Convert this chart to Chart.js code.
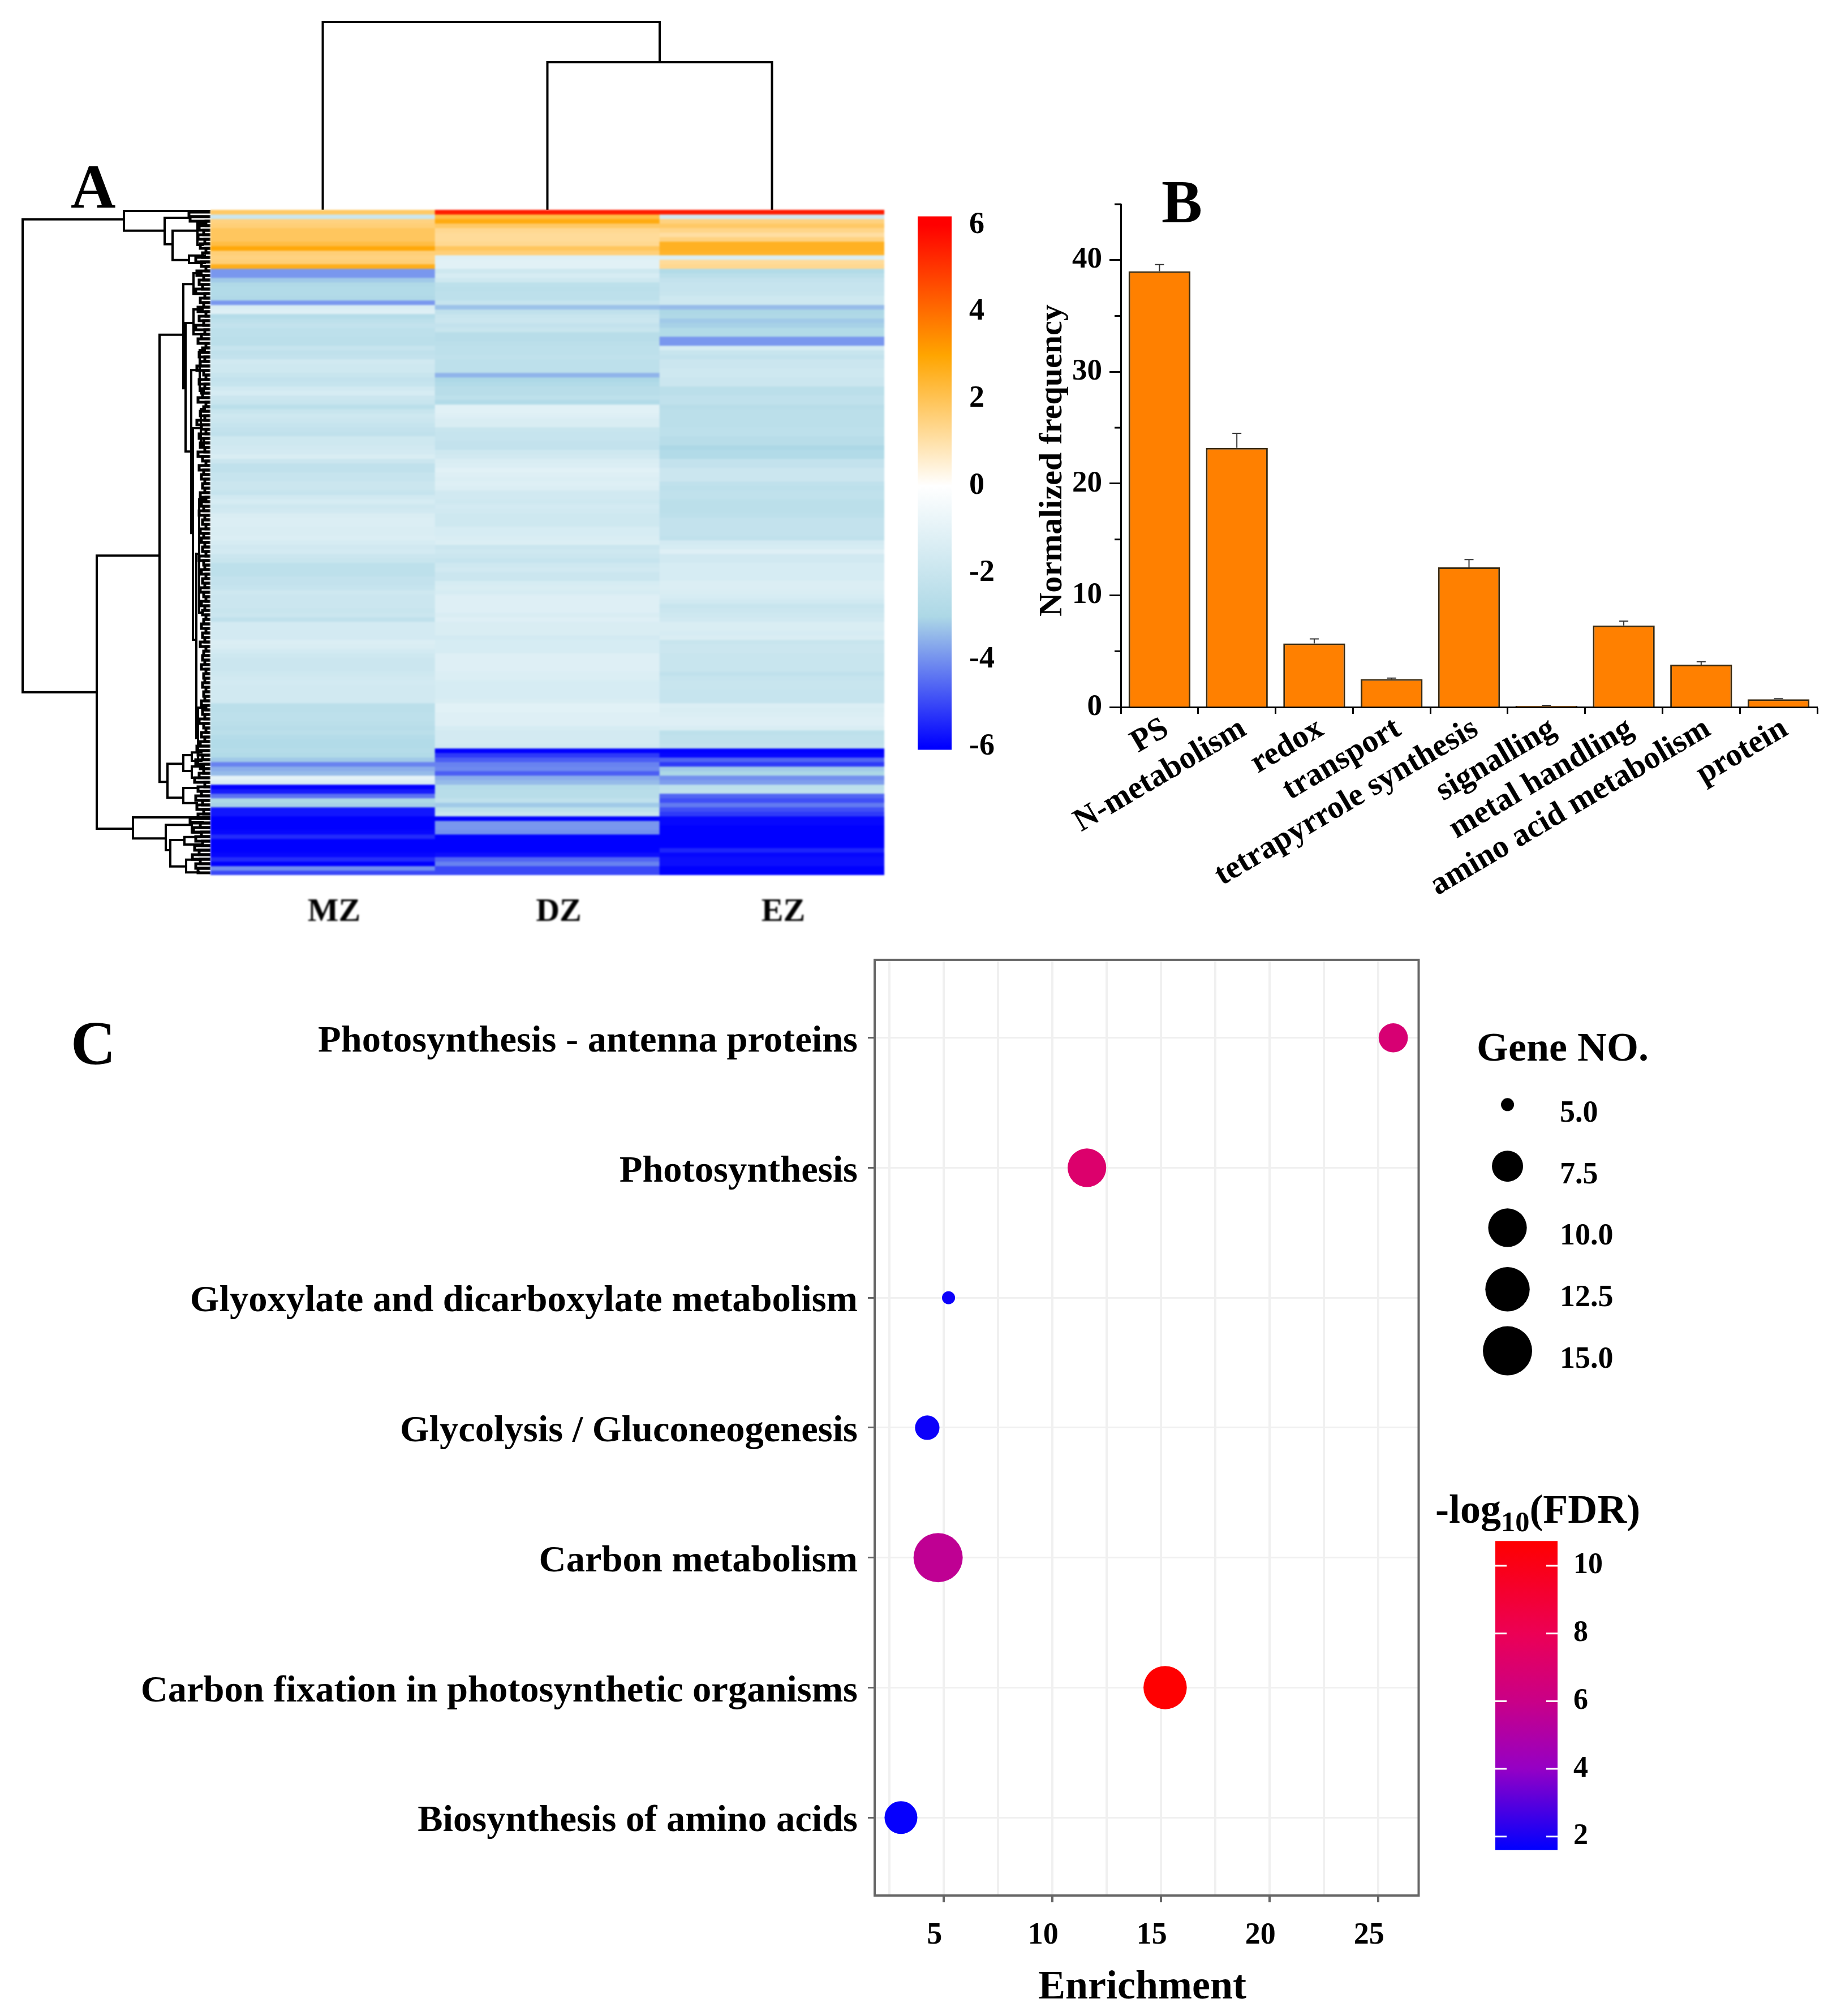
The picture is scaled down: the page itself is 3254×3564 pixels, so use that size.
<!DOCTYPE html>
<html>
<head>
<meta charset="utf-8">
<title>Panels A-C</title>
<script src="https://cdn.jsdelivr.net/npm/chart.js@4/dist/chart.umd.min.js"></script>
<style>
  html, body { margin: 0; background: #fff; }
  #page { position: relative; width: 3254px; height: 3564px; overflow: hidden; }
  canvas { position: absolute; }
  .note { position: absolute; font-family: "Liberation Serif", "Times New Roman", serif; font-weight: bold; line-height: 1; white-space: nowrap; color: #000; }
  .note sub { font-size: 0.7em; line-height: 0; }
</style>
</head>
<body>
<div id="page">
  <div class="note" style="left:125px;top:275px;font-size:110px">A</div>
  <div class="note" style="left:2053px;top:303px;font-size:108px">B</div>
  <div class="note" style="left:125px;top:1789px;font-size:110px">C</div>
  <div class="note" style="left:2610px;top:1815px;font-size:72px">Gene NO.</div>
  <div class="note" style="left:2537px;top:2632px;font-size:72px">-log<sub>10</sub>(FDR)</div>
  <div class="note" style="left:1857px;top:814px;font-size:58px;transform:translate(-50%,-50%) rotate(-90deg)">Normalized frequency</div>
  <div class="note" style="left:2019px;top:3509px;font-size:72px;transform:translate(-50%,-50%)">Enrichment</div>
</div>
<script>
// ============================================================================
// DATA
// ============================================================================
const SAMPLES = ['MZ', 'DZ', 'EZ'];

// Panel A: one value per heatmap row, top to bottom
const mzValues = [
  1.8,-1.9,1.5,1.6,1.9,1.9,1.9,2.2,2.9,1.6,
  1.5,1.6,2.7,-3.9,-3.9,-3.2,-2.9,-2.8,-2.8,-2.9,
  -3.9,-1.4,-1.2,-2.7,-2.4,-2.2,-2.4,-2.4,-2.5,-2.5,
  -2.1,-2.3,-2.2,-1.7,-1.8,-1.8,-2.0,-2.2,-2.1,-1.7,
  -1.5,-1.9,-2.0,-2.5,-2.0,-1.8,-1.9,-2.1,-2.2,-2.3,
  -1.8,-1.8,-1.7,-1.6,-1.4,-1.9,-2.3,-2.3,-2.1,-2.1,
  -1.9,-1.9,-2.1,-1.7,-1.5,-1.8,-1.7,-1.4,-1.3,-1.3,
  -1.4,-1.4,-1.3,-1.5,-1.7,-1.6,-1.9,-2.0,-2.4,-2.4,
  -2.4,-2.2,-2.2,-2.1,-1.8,-1.9,-1.9,-1.9,-2.0,-1.9,
  -2.3,-1.6,-1.6,-1.6,-1.6,-1.3,-1.4,-1.6,-1.8,-1.9,
  -1.9,-1.9,-1.8,-1.7,-1.6,-1.7,-1.7,-1.7,-1.7,-2.5,
  -2.5,-2.4,-2.4,-2.5,-2.6,-2.5,-2.7,-2.8,-2.8,-2.7,
  -2.8,-3.2,-4.2,-3.6,-3.4,-1.0,-1.4,-6,-5.6,-4.4,
  -3,-3.1,-5.7,-5.7,-6,-6,-6,-5.9,-5.4,-6,
  -6,-6,-5.9,-5.4,-6,-4,-5
];
const dzValues = [
  5.5,2.2,2.8,1.8,1.3,1.2,1.2,1.3,1.9,1.6,
  -1.2,-1.1,-1.1,-1.8,-1.5,-1.8,-2.4,-2.5,-2.4,-2.4,
  -2.1,-3.3,-2.3,-2.0,-1.9,-2.2,-2.0,-2.6,-2.6,-2.5,
  -2.4,-2.4,-2.3,-2.4,-2.4,-2.4,-3.5,-3.0,-2.8,-2.6,
  -2.6,-2.4,-2.8,-1.1,-1.1,-1.2,-1.4,-1.4,-2.0,-2.1,
  -2.1,-2.2,-2.2,-1.8,-1.7,-1.4,-1.3,-1.1,-1.2,-1.3,
  -1.2,-1.3,-1.7,-1.7,-1.8,-1.6,-1.7,-1.8,-1.8,-1.8,
  -1.5,-1.5,-1.4,-1.3,-1.9,-1.8,-1.9,-2.1,-1.8,-1.7,
  -1.9,-1.9,-1.5,-1.4,-1.5,-1.2,-1.2,-1.2,-1.2,-1.4,
  -1.2,-1.4,-1.4,-1.4,-1.6,-1.5,-1.5,-1.5,-1.2,-1.2,
  -1.2,-1.2,-1.3,-1.3,-1.5,-1.5,-1.5,-1.5,-1.4,-1.1,
  -1.1,-1.2,-1.2,-1.2,-1.5,-1.6,-1.6,-1.6,-1.7,-6,
  -5.2,-4.7,-4.2,-4.1,-4.7,-3.6,-3.4,-2.7,-2.6,-2.6,
  -2.3,-3.2,-2.4,-2.0,-6,-3.9,-3.9,-4,-6,-6,
  -6,-6,-5.8,-4.6,-4.2,-5,-5
];
const ezValues = [
  5.5,-1.7,1.5,1.8,1.4,1.1,1.5,2.6,2.6,2.5,
  -1.3,1.2,1.3,-2.8,-2.5,-2.2,-2.1,-2.1,-2.0,-1.8,
  -1.8,-3.4,-3.0,-2.9,-3.2,-3.1,-2.8,-2.8,-3.9,-3.9,
  -1.5,-2.0,-2.2,-1.9,-1.9,-1.8,-1.8,-1.9,-1.9,-2.5,
  -2.5,-2.3,-2.3,-2.6,-2.5,-2.5,-2.5,-2.5,-2.4,-2.4,
  -2.6,-2.6,-3.0,-2.8,-2.8,-2.2,-2.2,-1.9,-1.9,-1.9,
  -2.3,-2.4,-2.3,-2.3,-2.5,-2.5,-2.5,-2.4,-2.2,-2.2,
  -2.2,-2.2,-2.3,-1.6,-1.5,-1.2,-1.7,-1.7,-1.5,-1.5,
  -1.5,-1.5,-1.3,-1.3,-1.4,-1.5,-1.7,-2.0,-1.9,-1.8,
  -1.7,-1.4,-1.4,-1.5,-1.4,-2.0,-1.9,-1.9,-2.0,-2.0,
  -2.0,-2.0,-2.3,-2.1,-2.0,-2.0,-2.1,-2.1,-2.1,-1.3,
  -1.4,-1.3,-1.2,-1.2,-1.4,-2.4,-2.3,-2.3,-2.2,-6,
  -5.9,-4.6,-5.2,-3.2,-3,-4,-3.8,-2.4,-2.3,-4.6,
  -4.9,-4.3,-4.9,-5.2,-5.9,-5.9,-6,-6,-6,-6,
  -6,-5.5,-5.9,-5.8,-5.8,-6,-6
];
const heatmapColumns = [mzValues, dzValues, ezValues];

// Dendrogram merges: [height, first position, second position, first child height, second child height]
const columnMerges = [
  [0.786, 1.5, 2.5, 0, 0],
  [1, 0.5, 2, 0, 0.786],
];
const rowMerges = [
  [332,2.1,106.6,153,201],
  [153,0.25,4.6,0,81],
  [81,1.75,7.6,36,67],
  [67,4.6,11.1,23,38],
  [23,3,7.75,12,14],
  [38,10.1,11.75,10,10],
  [201,76.4,136.75,90,137],
  [90,27.6,126.4,48,76],
  [48,16.4,39.4,30,44],
  [30,14,18.6,16,14],
  [44,25,53.4,30,34],
  [30,22,27.5,14,16],
  [34,35.4,71.4,19,31],
  [19,31,40,10,12],
  [31,48.25,95,17,25],
  [17,44,52,10,12],
  [25,76,116.75,20,22],
  [20,64,89,12,14],
  [22,110,123,10,12],
  [76,122.4,129.9,48,48],
  [48,120.5,124,33,33],
  [33,119.9,121.75,16,16],
  [33,123,125.5,18,16],
  [48,127.75,131.1,26,24],
  [137,134.25,138.9,0,79],
  [79,135.9,141.5,33,71],
  [33,135.25,137.6,14,18],
  [71,139.25,145.1,46,43],
  [46,138.6,140.25,18,16],
  [43,143.6,146.4,22,20],
];
// Height of the small merge between each row and the next
const leafMergeHeights = [
  38,36,8,20,12,22,10,18,8,14,
  26,16,8,24,12,20,14,26,10,18,
  12,22,8,20,12,26,10,16,22,8,
  14,20,10,18,24,12,8,20,10,16,
  14,22,8,12,18,10,24,16,8,20,
  12,18,10,22,14,8,20,12,16,10,
  14,10,18,8,16,12,20,10,14,8,
  18,12,16,10,14,8,20,12,10,16,
  8,14,10,18,12,8,16,10,14,8,
  12,16,8,14,10,18,8,12,14,10,
  16,8,12,10,14,8,12,10,16,8,
  14,10,20,12,8,16,10,18,24,22,
  14,26,18,12,20,28,10,22,16,26,
  14,24,12,22,36,18,30,16,26,14,
  28,20,32,18,26,22
];

// Panel B
const functionNames = ['PS', 'N-metabolism', 'redox', 'transport', 'tetrapyrrole synthesis',
  'signalling', 'metal handling', 'amino acid metabolism', 'protein'];
const frequencies = [39, 23.2, 5.7, 2.5, 12.5, 0.1, 7.3, 3.8, 0.7];
const frequencyErrorTops = [39.6, 24.5, 6.1, 2.6, 13.2, 0.15, 7.7, 4.05, 0.75];
const frequencyMinorTicks = [5, 15, 25, 35, 45];

// Panel C
const pathways = ['Photosynthesis - antenna proteins', 'Photosynthesis',
  'Glyoxylate and dicarboxylate metabolism', 'Glycolysis / Gluconeogenesis',
  'Carbon metabolism', 'Carbon fixation in photosynthetic organisms', 'Biosynthesis of amino acids'];
const enrichment = [25.7, 11.6, 5.23, 4.25, 4.75, 15.2, 3.04];
const geneCounts = [7, 10, 5, 6, 15, 12, 8];
const fdrValues = [6.8, 7.1, 1.8, 1.8, 5.6, 10.7, 1.7];
const geneLevels = [5, 7.5, 10, 12.5, 15];

// ============================================================================
// COLOURS AND HELPERS
// ============================================================================
const SERIF = '"Liberation Serif", "Times New Roman", serif';
const boldFont = size => ({ family: SERIF, size, weight: 'bold' });

const HEAT_STOPS = [[-6, [0, 0, 255]], [-3, [173, 216, 230]], [0, [255, 255, 255]], [3, [255, 165, 0]], [6, [255, 0, 0]]];
const FDR_STOPS = [[1.6, [0, 0, 255]], [4, [149, 0, 197]], [6, [201, 0, 135]], [8, [236, 0, 85]], [10.73, [255, 0, 0]]];

function rampColor(stops, v) {
  const last = stops.length - 1;
  if (v <= stops[0][0]) return `rgb(${stops[0][1].join(',')})`;
  if (v >= stops[last][0]) return `rgb(${stops[last][1].join(',')})`;
  let i = 0;
  while (v > stops[i + 1][0]) i++;
  const t = (v - stops[i][0]) / (stops[i + 1][0] - stops[i][0]);
  const c = stops[i][1].map((a, k) => Math.round(a + (stops[i + 1][1][k] - a) * t));
  return `rgb(${c.join(',')})`;
}

// Vertical gradient for a colour bar, built from the scale so it stays aligned
function rampGradient(stops) {
  return ctx => {
    const { chart } = ctx;
    if (!chart.chartArea) return 'transparent';
    const y = chart.scales.y;
    const top = y.getPixelForValue(stops[stops.length - 1][0]);
    const bottom = y.getPixelForValue(stops[0][0]);
    const g = chart.ctx.createLinearGradient(0, bottom, 0, top);
    const span = stops[stops.length - 1][0] - stops[0][0];
    stops.forEach(s => g.addColorStop((s[0] - stops[0][0]) / span, `rgb(${s[1].join(',')})`));
    return g;
  };
}

// ggplot style area scale between the legend's smallest and largest dot
function dotRadius(count) {
  return 11.5 + 32 * Math.sqrt((count - 5) / 10);
}

function addCanvas(x, y, w, h) {
  const c = document.createElement('canvas');
  c.width = w; c.height = h;
  c.style.left = x + 'px'; c.style.top = y + 'px';
  document.getElementById('page').appendChild(c);
  return c.getContext('2d');
}

function elbowDatasets(merges, toPoint, width) {
  return merges.map(([h, p1, p2, h1, h2]) => ({
    type: 'scatter',
    showLine: true,
    data: [toPoint(h1, p1), toPoint(h, p1), toPoint(h, p2), toPoint(h2, p2)],
    borderColor: '#000',
    borderWidth: width,
    borderCapStyle: 'square',
    pointRadius: 0,
    tension: 0,
    clip: false,
  }));
}

const BASE = { responsive: false, animation: false, devicePixelRatio: 1, events: [] };
const NO_UI = { legend: { display: false }, tooltip: { enabled: false } };
const hidden = (extra) => Object.assign({ type: 'linear', display: false }, extra);
const fixWidth = w => s => { s.width = w; };
const fixHeight = h => s => { s.height = h; };

// ---- Panel A: column dendrogram -------------------------------------------
new Chart(addCanvas(372, 35, 1191, 336), {
  type: 'scatter',
  data: { datasets: elbowDatasets(columnMerges, (h, p) => ({ x: p, y: h }), 4) },
  options: {
    ...BASE,
    plugins: NO_UI,
    layout: { padding: { top: 4 } },
    scales: { x: hidden({ min: 0, max: 3 }), y: hidden({ min: 0, max: 1 }) },
  },
});

// ---- Panel A: row dendrogram ----------------------------------------------
const leafMerges = leafMergeHeights.map((h, i) => [h, i + 0.5, i + 1.5, 0, 0]);
new Chart(addCanvas(30, 365, 342, 1188), {
  type: 'scatter',
  data: {
    datasets: elbowDatasets(rowMerges, (h, r) => ({ x: h, y: r }), 4)
      .concat(elbowDatasets(leafMerges, (h, r) => ({ x: h, y: r }), 5)),
  },
  options: {
    ...BASE,
    plugins: NO_UI,
    layout: { padding: { top: 6, bottom: 6 } },
    scales: {
      x: hidden({ min: 0, max: 342, reverse: true }),
      y: hidden({ min: 0, max: mzValues.length, reverse: true }),
    },
  },
});

// ---- Panel A: heatmap, one floating bar per cell --------------------------
const heatCtx = addCanvas(372, 371, 1191, 1300);
heatCtx.canvas.style.filter = 'blur(1.5px)';   // the source bands are soft-edged
new Chart(heatCtx, {
  type: 'bar',
  data: {
    labels: SAMPLES,
    datasets: mzValues.map((_, row) => ({
      data: SAMPLES.map(() => [row, row + 1]),
      backgroundColor: heatmapColumns.map(col => rampColor(HEAT_STOPS, col[row])),
      borderWidth: 0,
      barPercentage: 1,
      categoryPercentage: 1,
      grouped: false,
    })),
  },
  options: {
    ...BASE,
    plugins: NO_UI,
    scales: {
      x: {
        afterFit: fixHeight(124),
        grid: { display: false, drawTicks: false },
        border: { display: false },
        ticks: { font: boldFont(58), color: '#000', padding: 31, labelOffset: 20, maxRotation: 0 },
      },
      y: hidden({ min: 0, max: mzValues.length, reverse: true }),
    },
  },
});

// ---- Panel A: colour bar --------------------------------------------------
// The y axis reserves about 64px above and below the plot for its own labels
new Chart(addCanvas(1622, 319, 160, 1070), {
  type: 'bar',
  data: {
    labels: [''],
    datasets: [{ data: [[-6.07, 6.2]], backgroundColor: rampGradient(HEAT_STOPS), borderWidth: 0, barPercentage: 1, categoryPercentage: 1 }],
  },
  options: {
    ...BASE,
    plugins: NO_UI,
    scales: {
      x: { display: false },
      y: {
        position: 'right', min: -6.07, max: 6.2,
        afterFit: fixWidth(100),
        grid: { display: false, drawTicks: false },
        border: { display: false },
        ticks: { stepSize: 2, includeBounds: false, font: boldFont(54), color: '#000', padding: 31, callback: v => String(v) },
      },
    },
  },
});

// ---- Panel B: bars --------------------------------------------------------
const frequencyDecor = {
  id: 'frequencyDecor',
  afterDatasetsDraw(chart) {
    const { ctx, scales: { x, y } } = chart;
    ctx.save();
    ctx.strokeStyle = '#333';
    ctx.lineWidth = 2;
    frequencyErrorTops.forEach((top, i) => {
      const px = x.getPixelForValue(i);
      const py = y.getPixelForValue(top);
      ctx.beginPath();
      ctx.moveTo(px, y.getPixelForValue(frequencies[i]));
      ctx.lineTo(px, py);
      ctx.moveTo(px - 8, py);
      ctx.lineTo(px + 8, py);
      ctx.stroke();
    });
    ctx.strokeStyle = '#000';
    ctx.lineWidth = 3;
    frequencyMinorTicks.forEach(v => {
      const py = y.getPixelForValue(v);
      ctx.beginPath();
      ctx.moveTo(x.left, py);
      ctx.lineTo(x.left - 11, py);
      ctx.stroke();
    });
    ctx.restore();
  },
};

new Chart(addCanvas(1820, 300, 1434, 1380), {
  type: 'bar',
  data: {
    labels: functionNames,
    datasets: [{
      data: frequencies,
      backgroundColor: '#ff8000',
      borderColor: '#3a2a10',
      borderWidth: 3,
      barPercentage: 1,
      categoryPercentage: 0.8,
    }],
  },
  plugins: [frequencyDecor],
  options: {
    ...BASE,
    plugins: NO_UI,
    layout: { padding: { top: 61, right: 42 } },
    scales: {
      x: {
        afterFit: fixHeight(430),
        grid: { offset: true, drawOnChartArea: false, tickLength: 12, tickWidth: 3, tickColor: '#000' },
        border: { color: '#000', width: 3 },
        ticks: { font: boldFont(57), color: '#000', minRotation: 30.5, maxRotation: 30.5, autoSkip: false, padding: -7, labelOffset: 12 },
      },
      y: {
        min: 0, max: 45,
        afterFit: fixWidth(161),
        grid: { drawOnChartArea: false, tickLength: 20, tickWidth: 3, tickColor: '#000' },
        border: { color: '#000', width: 3 },
        ticks: { stepSize: 10, includeBounds: false, font: boldFont(53), color: '#000', padding: 13 },
      },
    },
  },
});

// ---- Panel C: bubbles -----------------------------------------------------
const panelFrame = {
  id: 'panelFrame',
  beforeDatasetsDraw(chart) {
    const { ctx, chartArea: a } = chart;
    ctx.save();
    ctx.strokeStyle = '#666';
    ctx.lineWidth = 4;
    ctx.strokeRect(a.left, a.top, a.right - a.left, a.bottom - a.top);
    ctx.restore();
  },
};

new Chart(addCanvas(180, 1639, 2371, 1921), {
  type: 'bubble',
  data: {
    datasets: [{
      data: pathways.map((_, i) => ({ x: enrichment[i], y: i + 1, r: dotRadius(geneCounts[i]) })),
      backgroundColor: fdrValues.map(v => rampColor(FDR_STOPS, v)),
      borderWidth: 0,
    }],
  },
  plugins: [panelFrame],
  options: {
    ...BASE,
    plugins: NO_UI,
    scales: {
      x: {
        type: 'linear', min: 1.83, max: 26.87,
        afterFit: fixHeight(209),
        grid: {
          color: '#f0f0f0', lineWidth: 4, tickLength: 12, tickWidth: 4,
          tickColor: c => (c.tick && c.tick.value % 5 === 0 ? '#666' : 'rgba(0,0,0,0)'),
        },
        border: { display: false },
        ticks: {
          stepSize: 2.5, includeBounds: false, autoSkip: false, maxRotation: 0,
          font: boldFont(54), color: '#000', padding: 27, labelOffset: -16,
          callback: v => (v % 5 === 0 ? String(v) : ''),
        },
      },
      y: {
        type: 'linear', min: 0.4, max: 7.6, reverse: true,
        afterFit: fixWidth(1366),
        grid: { color: '#f0f0f0', lineWidth: 3, tickLength: 12, tickWidth: 3, tickColor: '#666' },
        border: { display: false },
        ticks: {
          stepSize: 1, includeBounds: false, autoSkip: false,
          font: boldFont(66.5), color: '#000', padding: 18, labelOffset: 7,
          callback: v => pathways[v - 1],
        },
      },
    },
  },
});

// ---- Panel C: dot size legend ---------------------------------------------
new Chart(addCanvas(2600, 1844, 340, 654), {
  type: 'bubble',
  data: {
    datasets: [{
      data: geneLevels.map((g, i) => ({ x: 0.23, y: i + 1, r: dotRadius(g) })),
      backgroundColor: '#000',
      borderWidth: 0,
      clip: false,
    }],
  },
  options: {
    ...BASE,
    plugins: NO_UI,
    layout: { padding: { top: 4 } },
    scales: {
      x: hidden({ min: 0, max: 1 }),
      y: {
        position: 'right', min: 0.5, max: 5.51, reverse: true,
        afterFit: fixWidth(205),
        grid: { display: false, drawTicks: false },
        border: { display: false },
        ticks: {
          stepSize: 1, includeBounds: false, font: boldFont(54), color: '#000', padding: 22, labelOffset: 16,
          callback: v => geneLevels[v - 1].toFixed(1),
        },
      },
    },
  },
});

// ---- Panel C: colour bar --------------------------------------------------
const fdrBarTicks = {
  id: 'fdrBarTicks',
  afterDatasetsDraw(chart) {
    const { ctx, chartArea: a, scales: { y } } = chart;
    ctx.save();
    ctx.strokeStyle = '#fff';
    ctx.lineWidth = 3;
    y.ticks.forEach(t => {
      const py = y.getPixelForValue(t.value);
      ctx.beginPath();
      ctx.moveTo(a.left, py); ctx.lineTo(a.left + 20, py);
      ctx.moveTo(a.right - 20, py); ctx.lineTo(a.right, py);
      ctx.stroke();
    });
    ctx.restore();
  },
};

new Chart(addCanvas(2643, 2665, 210, 665), {
  type: 'bar',
  data: {
    labels: [''],
    datasets: [{ data: [[1.6, 10.73]], backgroundColor: rampGradient(FDR_STOPS), borderWidth: 0, barPercentage: 1, categoryPercentage: 1 }],
  },
  plugins: [fdrBarTicks],
  options: {
    ...BASE,
    plugins: NO_UI,
    scales: {
      x: { display: false },
      y: {
        position: 'right', min: 1.6, max: 10.73,
        afterFit: fixWidth(100),
        grid: { display: false, drawTicks: false },
        border: { display: false },
        ticks: { stepSize: 2, includeBounds: false, font: boldFont(52), color: '#000', padding: 28 },
      },
    },
  },
});
</script>
</body>
</html>
